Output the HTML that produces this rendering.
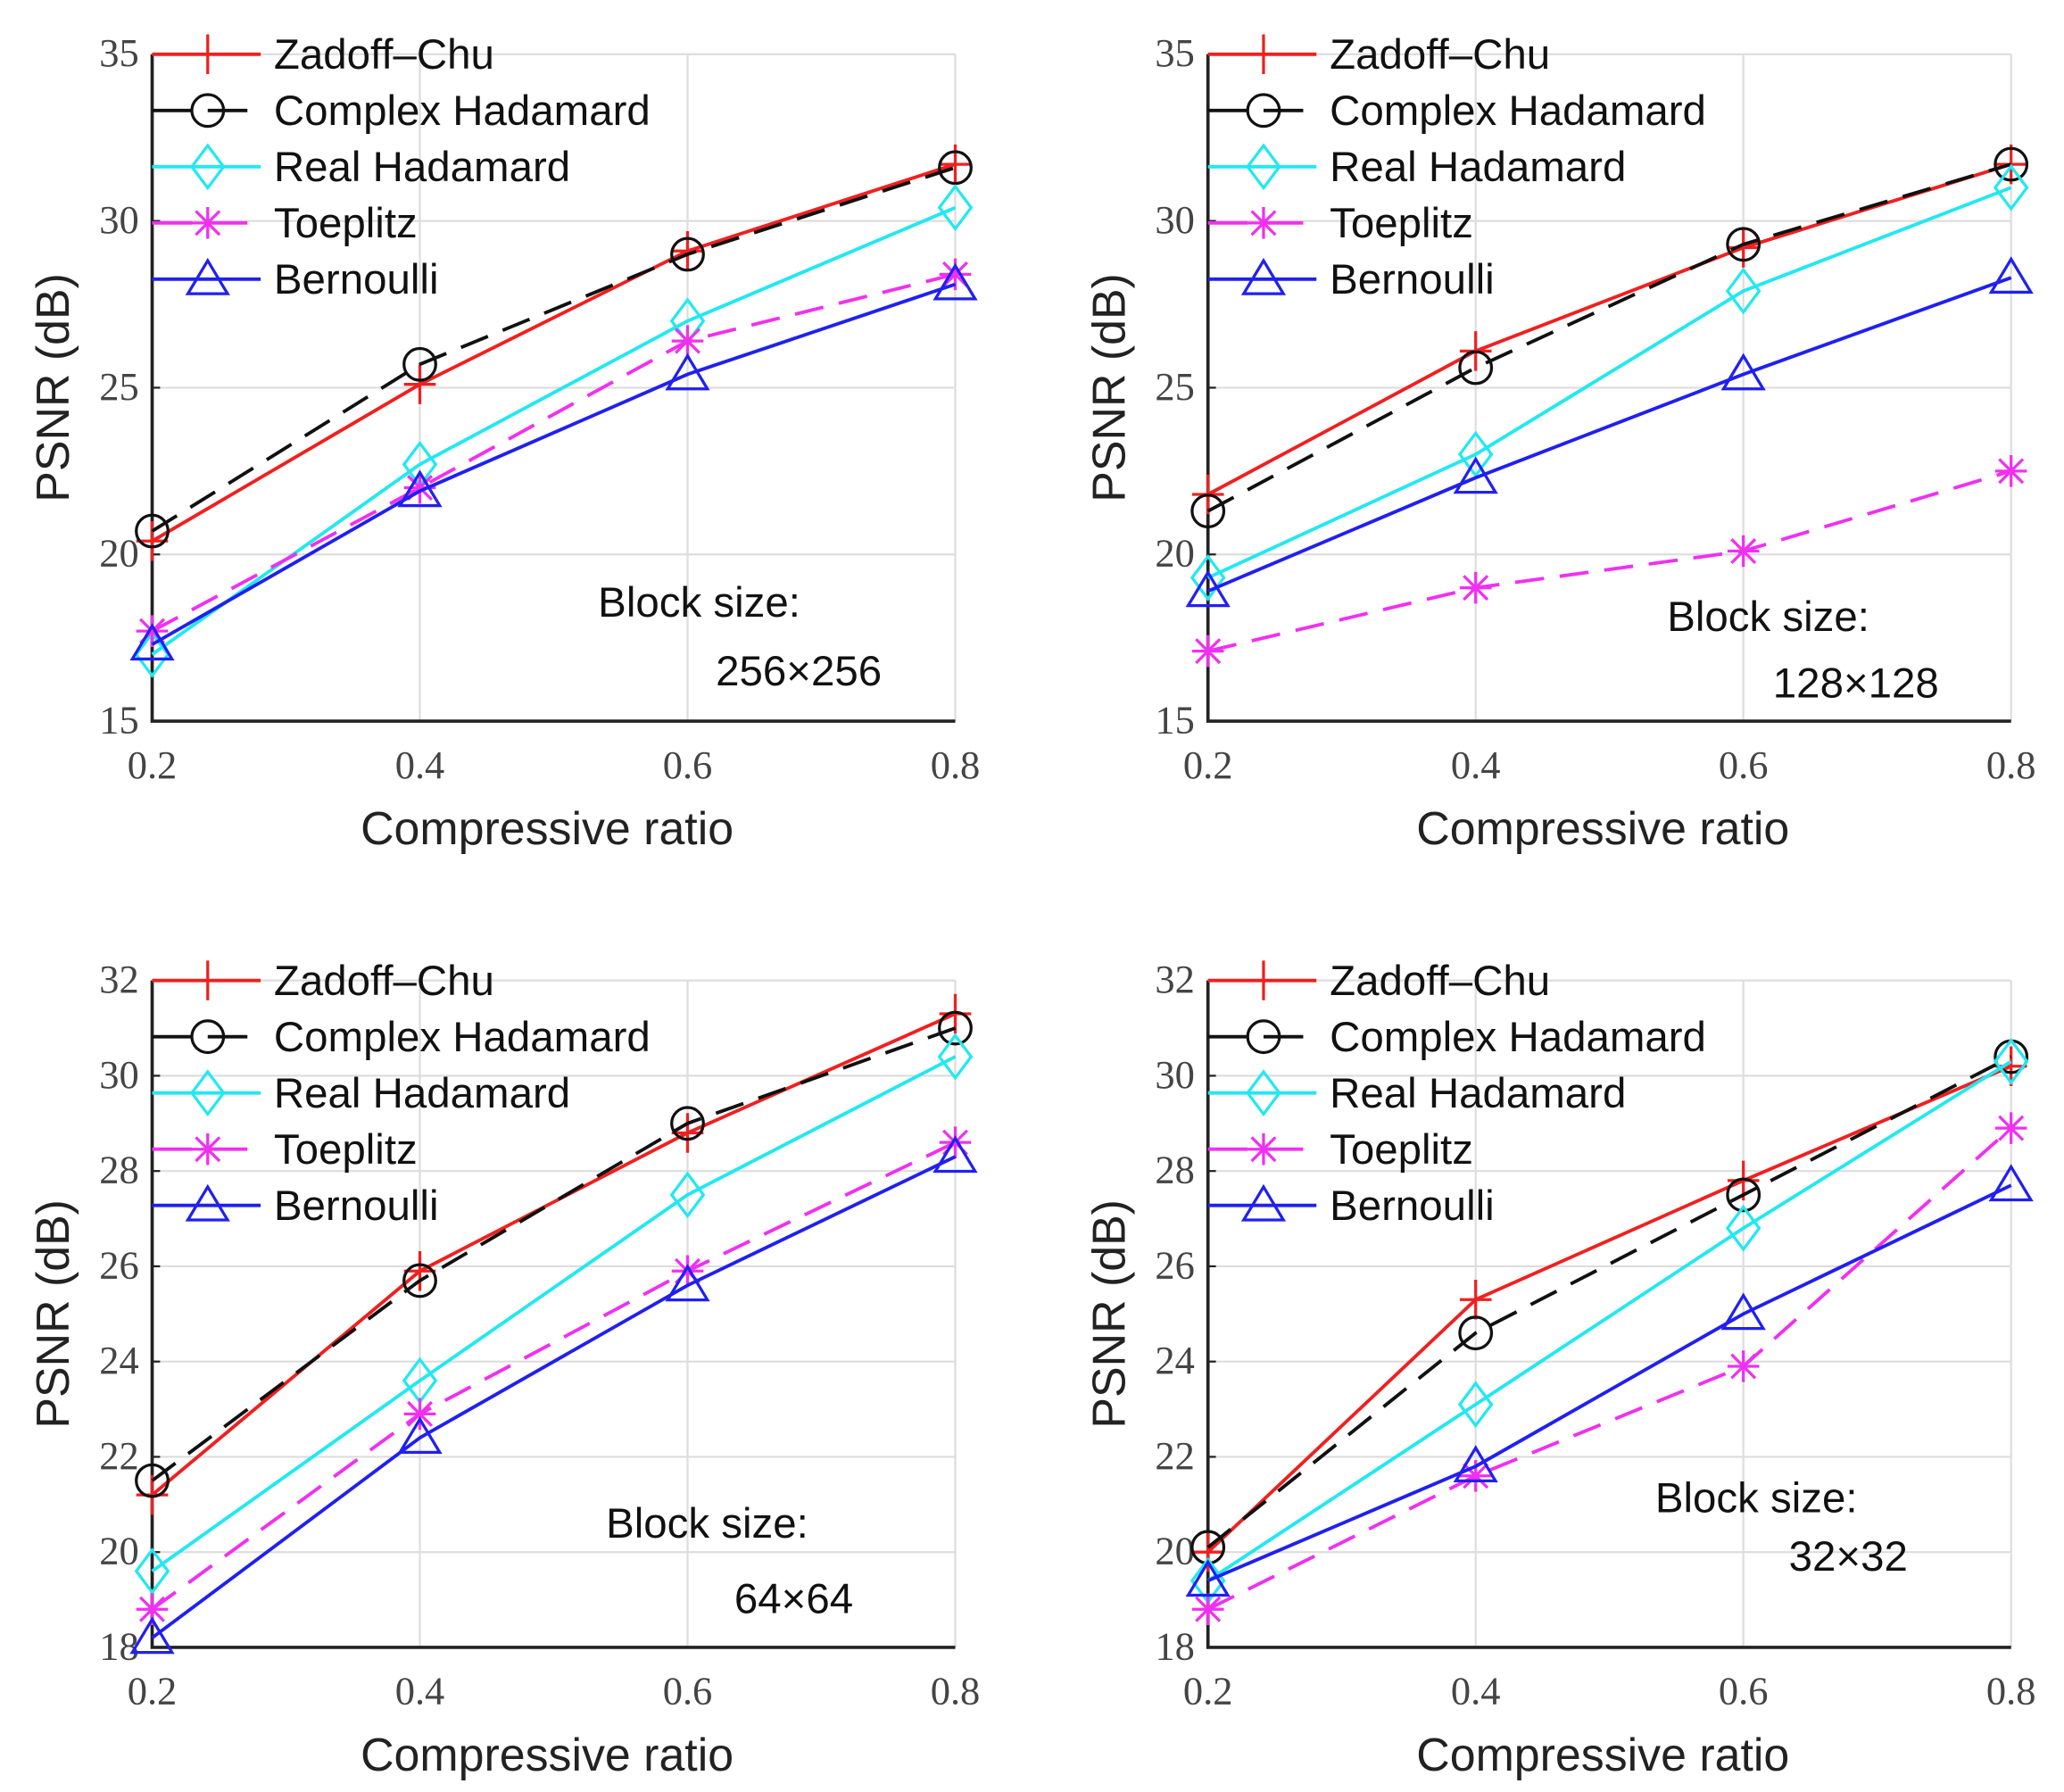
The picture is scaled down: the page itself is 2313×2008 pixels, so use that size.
<!DOCTYPE html>
<html><head><meta charset="utf-8"><style>
html,body{margin:0;padding:0;background:#fff}
svg{display:block}
.tick{font-family:"Liberation Serif",serif;font-size:30px;fill:#444}
.lab{font-family:"Liberation Sans",sans-serif;font-size:35px;fill:#222}
.leg{font-family:"Liberation Sans",sans-serif;font-size:32px;fill:#111}
</style></head><body>
<svg id="fig" width="2313" height="2008" viewBox="0 0 1560 1354.3" preserveAspectRatio="none" xmlns="http://www.w3.org/2000/svg"></svg>
<script>
const xCats=[0.2,0.4,0.6,0.8];
const seriesNames=["Zadoff\u2013Chu","Complex Hadamard","Real Hadamard","Toeplitz","Bernoulli"];
const zc256=[20.4,25.1,29.1,31.7], ch256=[20.7,25.7,29.0,31.6], rh256=[17.0,22.7,27.0,30.4], tp256=[17.7,22.0,26.4,28.4], be256=[17.3,21.9,25.4,28.1];
const zc128=[21.8,26.1,29.2,31.7], ch128=[21.3,25.6,29.3,31.7], rh128=[19.3,23.0,27.9,31.0], tp128=[17.1,19.0,20.1,22.5], be128=[18.9,22.3,25.4,28.3];
const zc64=[21.2,25.9,28.8,31.3], ch64=[21.5,25.7,29.0,31.0], rh64=[19.6,23.6,27.5,30.4], tp64=[18.8,22.9,25.9,28.6], be64=[18.2,22.4,25.6,28.3];
const zc32=[20.0,25.3,27.8,30.2], ch32=[20.1,24.6,27.5,30.4], rh32=[19.4,23.1,26.8,30.3], tp32=[18.8,21.6,23.9,28.9], be32=[19.4,21.8,25.0,27.7];
const yTicksA=[15,20,25,30,35];
const yTicksB=[18,20,22,24,26,28,30,32];
const blockLabels=["256\u00d7256","128\u00d7128","64\u00d764","32\u00d732"];

const NS="http://www.w3.org/2000/svg";
const svg=document.getElementById('fig');
function el(t,a,p){const e=document.createElementNS(NS,t);for(const k in a)e.setAttribute(k,a[k]);(p||svg).appendChild(e);return e;}
const colors=["#f02020","#111","#22e8f0","#f030f0","#2020f0"];
const dashes=[null,"22,12",null,"22,12",null];

function marker(g,k,x,y,c){
  const s=12;
  if(k===0){el('path',{d:`M${x-s} ${y}H${x+s}M${x} ${y-s-3}V${y+s+3}`,stroke:c,'stroke-width':2.2,fill:'none'},g);}
  else if(k===1){el('circle',{cx:x,cy:y,r:s,stroke:c,'stroke-width':2.2,fill:'none'},g);}
  else if(k===2){el('path',{d:`M${x} ${y-s-4}L${x+s} ${y}L${x} ${y+s+4}L${x-s} ${y}Z`,stroke:c,'stroke-width':2.2,fill:'none'},g);}
  else if(k===3){el('path',{d:`M${x-s} ${y}H${x+s}M${x} ${y-s}V${y+s}M${x-9} ${y-9}L${x+9} ${y+9}M${x-9} ${y+9}L${x+9} ${y-9}`,stroke:c,'stroke-width':2.2,fill:'none'},g);}
  else {el('path',{d:`M${x} ${y-s-2}L${x+s+3} ${y+s-1}L${x-s-3} ${y+s-1}Z`,stroke:c,'stroke-width':2.2,fill:'none'},g);}
}

function panel(name,ox,oy,yTicks,data,block,bx,by,b2x,b2y){
  const g=el('g',{});
  
  
  const x0=ox,x1=ox+607,yTop=oy,yBot=oy+504;
  const ymin=yTicks[0],ymax=yTicks[yTicks.length-1];
  const X=v=>x0+(v-xCats[0])/(xCats[3]-xCats[0])*(x1-x0);
  const Y=v=>yBot-(v-ymin)/(ymax-ymin)*(yBot-yTop);
  yTicks.forEach(t=>{
    el('line',{x1:x0,x2:x1,y1:Y(t),y2:Y(t),stroke:'#ddd','stroke-width':1.5},g);
    const tl=el('text',{x:x0-10,y:Y(t)+9,'text-anchor':'end',class:'tick'},g);tl.textContent=t;
    
    
    el('line',{x1:x0,x2:x0+6,y1:Y(t),y2:Y(t),stroke:'#222','stroke-width':1.5},g);
  });
  xCats.forEach(c=>{
    el('line',{x1:X(c),x2:X(c),y1:yTop,y2:yBot,stroke:'#ddd','stroke-width':1.5},g);
    const tl=el('text',{x:X(c),y:yBot+43,'text-anchor':'middle',class:'tick'},g);tl.textContent=c.toFixed(1);
    
    
  });
  el('path',{d:`M${x0} ${yTop}V${yBot}H${x1}`,stroke:'#222','stroke-width':2.5,fill:'none'},g);
  const xt=el('text',{x:(x0+x1)/2-5,y:yBot+93,'text-anchor':'middle',class:'lab'},g);xt.textContent='Compressive ratio';
  
  
  const cy=(yTop+yBot)/2;
  const yt=el('text',{x:ox-63,y:cy,'text-anchor':'middle',class:'lab',transform:`rotate(-90 ${ox-63} ${cy})`},g);yt.textContent='PSNR (dB)';
  
  
  data.forEach((vals,k)=>{
    const s=el('g',{},g);
    
    
    const a={d:vals.map((v,i)=>(i?'L':'M')+X(xCats[i])+' '+Y(v)).join(''),stroke:colors[k],'stroke-width':2.6,fill:'none'};
    if(dashes[k])a['stroke-dasharray']=dashes[k];
    el('path',a,s);
    vals.forEach((v,i)=>marker(s,k,X(xCats[i]),Y(v),colors[k]));
  });
  const lg=el('g',{},g);
  
  
  seriesNames.forEach((n,k)=>{
    const ly=yTop+k*42.5;
    const a={x1:x0,x2:x0+82,y1:ly,y2:ly,stroke:colors[k],'stroke-width':2.6};
    if(dashes[k])a['stroke-dasharray']="30,12";
    el('line',a,lg);
    marker(lg,k,x0+42,ly,colors[k]);
    const t=el('text',{x:x0+92,y:ly+11,class:'leg'},lg);t.textContent=n;
    
    
  });
  const b1=el('text',{x:bx,y:by,class:'leg'},g);b1.textContent='Block size:';
  
  
  const b2=el('text',{x:b2x,y:b2y,class:'leg'},g);b2.textContent=block;
  
  
}
panel('chart-256',115,41,yTicksA,[zc256,ch256,rh256,tp256,be256],blockLabels[0],452,466,541,518);
panel('chart-128',913,41,yTicksA,[zc128,ch128,rh128,tp128,be128],blockLabels[1],1260,477,1340,527);
panel('chart-64',115,741,yTicksB,[zc64,ch64,rh64,tp64,be64],blockLabels[2],458,1162,555,1219);
panel('chart-32',913,741,yTicksB,[zc32,ch32,rh32,tp32,be32],blockLabels[3],1251,1143,1352,1187);
</script>
</body></html>
